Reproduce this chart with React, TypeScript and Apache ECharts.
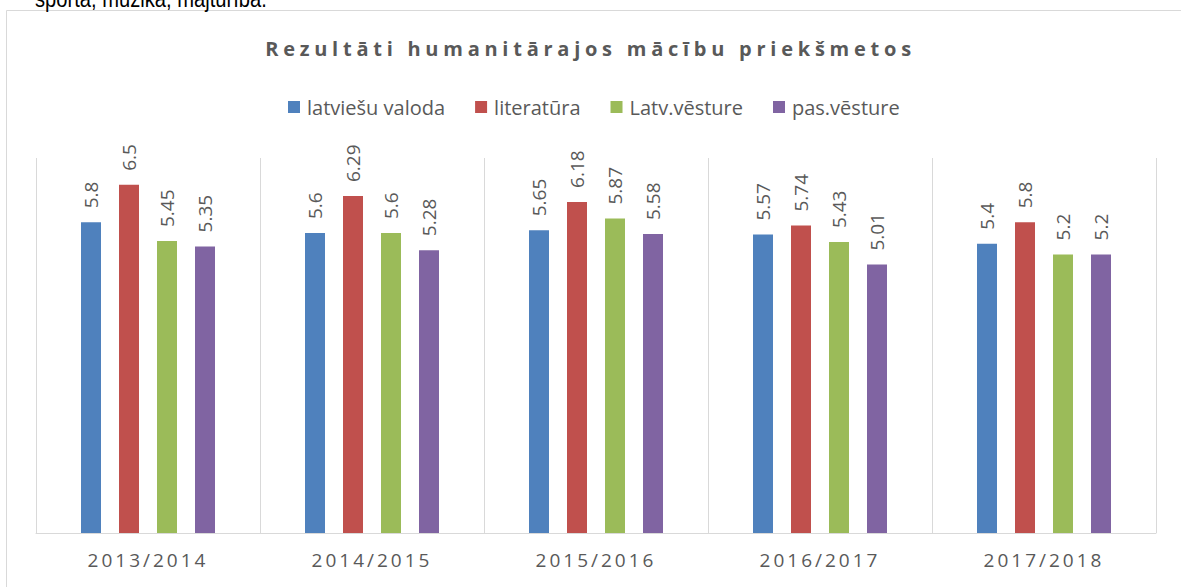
import React, { useEffect, useRef } from "react";
import * as echarts from "echarts";

const TITLE = "Rezultāti humanitārajos mācību priekšmetos";
const TOP_TEXT = "sporta, mūzika, mājturība.";
const categories = ["2013/2014", "2014/2015", "2015/2016", "2016/2017", "2017/2018"];
const seriesNames = ["latviešu valoda", "literatūra", "Latv.vēsture", "pas.vēsture"];
const latviesuValoda = [5.8, 5.6, 5.65, 5.57, 5.4];
const literatura = [6.5, 6.29, 6.18, 5.74, 5.8];
const latvVesture = [5.45, 5.6, 5.87, 5.43, 5.2];
const pasVesture = [5.35, 5.28, 5.58, 5.01, 5.2];
const seriesValues = [latviesuValoda, literatura, latvVesture, pasVesture];
const colors = ["#4F81BD", "#C0504D", "#9BBB59", "#8064A2"];

const FONT = "'Open Sans', 'Noto Sans', sans-serif";
const GRAY = "#595959";

export default function App() {
  const ref = useRef<HTMLDivElement>(null);

  useEffect(() => {
    const el = ref.current;
    if (!el) return;
    const chart = echarts.init(el, undefined, { renderer: "svg" });

    const applySpacing = () => {
      el.querySelectorAll("text").forEach((t) => {
        const s = t.textContent || "";
        if (s === TITLE) t.setAttribute("letter-spacing", "4.75");
        else if (categories.includes(s)) t.setAttribute("letter-spacing", "3");
      });
    };

    chart.setOption({
      animation: false,
      color: colors,
      title: {
        text: TITLE,
        left: "center",
        top: 33,
        textStyle: { fontSize: 20, fontWeight: "bold", color: GRAY, fontFamily: FONT },
      },
      legend: {
        top: 92,
        left: 283,
        itemWidth: 12,
        itemHeight: 12,
        itemGap: 30,
        icon: "rect",
        textStyle: { color: GRAY, fontSize: 20, fontFamily: FONT, padding: [0, 0, 0, 2] },
        data: seriesNames,
      },
      grid: { left: 36, right: 25, top: 158, bottom: 54 },
      xAxis: {
        type: "category",
        data: categories,
        axisLine: { show: true, lineStyle: { color: "#d9d9d9", width: 1 } },
        axisTick: { show: false },
        splitLine: { show: true, lineStyle: { color: "#d9d9d9", width: 1 } },
        axisLabel: { color: GRAY, fontSize: 19, fontFamily: FONT, margin: 17 },
      },
      yAxis: {
        type: "value",
        min: 0,
        max: 7,
        show: false,
        splitLine: { show: false },
      },
      graphic: [
        {
          type: "rect",
          shape: { x: 6.5, y: 10.5, width: 1300, height: 700 },
          style: { fill: "none", stroke: "#d9d9d9", lineWidth: 1 },
          silent: true,
        },
        {
          type: "text",
          x: 35,
          y: -1,
          scaleX: 0.84,
          style: {
            text: TOP_TEXT,
            fill: "#000000",
            fontSize: 24,
            fontFamily: "'Liberation Sans', Arial, sans-serif",
            verticalAlign: "middle",
            align: "left",
          },
          silent: true,
        },
      ],
      series: seriesNames.map((name, i) => ({
        name,
        type: "bar",
        data: seriesValues[i],
        barWidth: 20,
        barGap: "90%",
        itemStyle: { color: colors[i] },
        emphasis: { disabled: true },
        label: {
          show: true,
          position: "top",
          rotate: 90,
          align: "left",
          verticalAlign: "middle",
          distance: 14,
          color: GRAY,
          fontSize: 19,
          fontFamily: FONT,
        },
      })),
    });
    applySpacing();
    chart.on("finished", applySpacing);
    const raf = requestAnimationFrame(applySpacing);

    return () => {
      cancelAnimationFrame(raf);
      chart.dispose();
    };
  }, []);

  return (
    <div
      ref={ref}
      style={{ position: "fixed", left: 0, top: 0, width: 1181, height: 587, background: "#fff" }}
    />
  );
}
